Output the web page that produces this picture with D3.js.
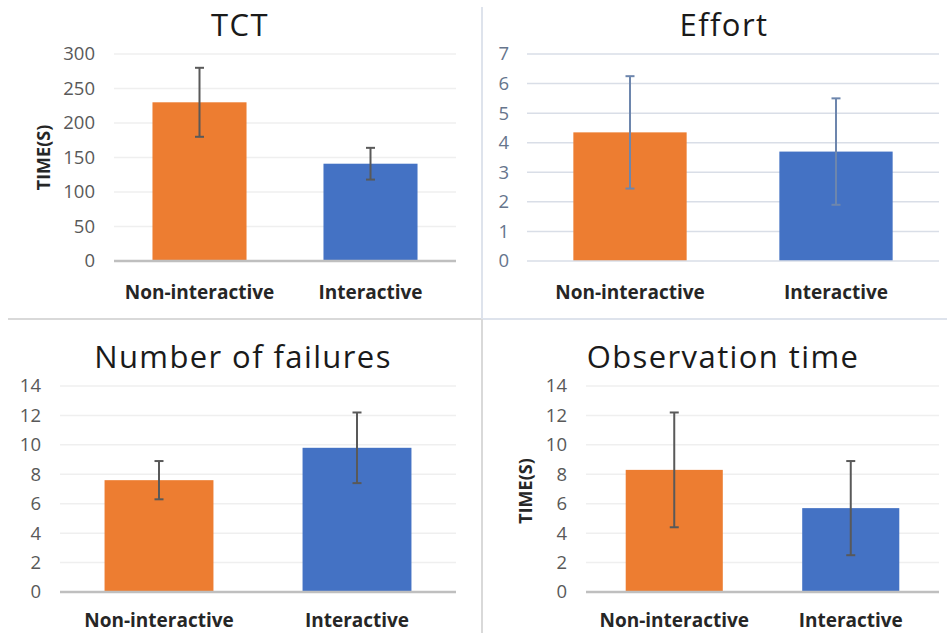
<!DOCTYPE html>
<html>
<head>
<meta charset="utf-8">
<script src="https://cdn.jsdelivr.net/npm/d3@7/dist/d3.min.js"></script>
<style>
  html, body { margin: 0; padding: 0; background: #fff; }
  svg { display: block; }
</style>
</head>
<body>
<svg id="chart" width="947" height="633"></svg>
<script>
// ---- data ----
const categories = ["Non-interactive", "Interactive"];
const tctMeans = [230, 141];
const tctErrors = [50, 23];
const effortMeans = [4.35, 3.7];
const effortErrors = [1.9, 1.8];
const failureMeans = [7.6, 9.8];
const failureErrors = [1.3, 2.4];
const observationMeans = [8.3, 5.7];
const observationErrors = [3.9, 3.2];
const tctTicks = [0, 50, 100, 150, 200, 250, 300];
const effortTicks = [0, 1, 2, 3, 4, 5, 6, 7];
const countTicks = [0, 2, 4, 6, 8, 10, 12, 14];
const barColors = ["#ED7D31", "#4472C4"];

const svg = d3.select("#chart");
const FONT = "'Open Sans', 'Noto Sans', sans-serif";

// dividers
svg.append("line").attr("x1", 8).attr("x2", 482).attr("y1", 319).attr("y2", 319)
  .attr("stroke", "#D9D9D9").attr("stroke-width", 2);
svg.append("line").attr("x1", 482).attr("x2", 947).attr("y1", 319).attr("y2", 319)
  .attr("stroke", "#DEE3EC").attr("stroke-width", 2);
svg.append("line").attr("x1", 482).attr("x2", 482).attr("y1", 7).attr("y2", 319)
  .attr("stroke", "#DEE3EC").attr("stroke-width", 2);
svg.append("line").attr("x1", 482).attr("x2", 482).attr("y1", 319).attr("y2", 633)
  .attr("stroke", "#D9D9D9").attr("stroke-width", 2);

const panels = [
  { title: "TCT", means: tctMeans, errs: tctErrors, ticks: tctTicks,
    x0: 114, x1: 456, yTop: 54, yBot: 261, tickX: 95, ylabel: "TIME(S)", ylabelX: 43,
    titleX: 240, titleY: 36, catY: 299, grid: "#EFEFEF", base: "#BFBFBF", baseW: 2.5,
    err: "#595959", tickColor: "#595959" },
  { title: "Effort", means: effortMeans, errs: effortErrors, ticks: effortTicks,
    x0: 527, x1: 939, yTop: 54, yBot: 261, tickX: 509, ylabel: null,
    titleX: 724, titleY: 36, catY: 299, grid: "#D9DEE7", base: "#D9DEE7", baseW: 1.5,
    err: "#6D86AD", tickColor: "#66758C" },
  { title: "Number of failures", means: failureMeans, errs: failureErrors, ticks: countTicks,
    x0: 60, x1: 456, yTop: 386, yBot: 592, tickX: 41, ylabel: null,
    titleX: 243, titleY: 368, catY: 627, grid: "#EFEFEF", base: "#BFBFBF", baseW: 2.5,
    err: "#595959", tickColor: "#595959" },
  { title: "Observation time", means: observationMeans, errs: observationErrors, ticks: countTicks,
    x0: 586, x1: 939, yTop: 386, yBot: 592, tickX: 567, ylabel: "TIME(S)", ylabelX: 525,
    titleX: 723, titleY: 368, catY: 627, grid: "#EFEFEF", base: "#BFBFBF", baseW: 2.5,
    err: "#595959", tickColor: "#595959" }
];

panels.forEach(p => {
  const g = svg.append("g");
  const x = d3.scaleBand().domain(categories).range([p.x0, p.x1])
    .paddingInner(0.45).paddingOuter(0.225);
  const y = d3.scaleLinear().domain([0, d3.max(p.ticks)]).range([p.yBot, p.yTop]);

  // gridlines
  g.selectAll("line.grid").data(p.ticks.slice(1)).join("line")
    .attr("x1", p.x0).attr("x2", p.x1)
    .attr("y1", d => y(d)).attr("y2", d => y(d))
    .attr("stroke", p.grid).attr("stroke-width", 1.5);

  // y axis tick labels via d3 axis
  const axis = d3.axisLeft(y).tickValues(p.ticks).tickSize(0).tickPadding(0)
    .tickFormat(d3.format("d"));
  const ag = g.append("g").attr("transform", `translate(${p.tickX},0)`).call(axis);
  ag.select(".domain").remove();
  ag.selectAll("text").attr("font-family", FONT).attr("font-size", 18.5)
    .attr("fill", p.tickColor);

  // bars
  const data = categories.map((c, i) => ({ c, m: p.means[i], e: p.errs[i], i }));
  g.selectAll("rect.bar").data(data).join("rect")
    .attr("x", d => x(d.c)).attr("width", x.bandwidth())
    .attr("y", d => y(d.m)).attr("height", d => y(0) - y(d.m))
    .attr("fill", d => barColors[d.i]);

  // baseline
  g.append("line").attr("x1", p.x0).attr("x2", p.x1)
    .attr("y1", y(0)).attr("y2", y(0))
    .attr("stroke", p.base).attr("stroke-width", p.baseW);

  // error bars
  const cap = 4.5;
  data.forEach(d => {
    const cx = x(d.c) + x.bandwidth() / 2;
    g.append("line").attr("x1", cx).attr("x2", cx)
      .attr("y1", y(d.m + d.e)).attr("y2", y(d.m - d.e))
      .attr("stroke", p.err).attr("stroke-width", 2);
    [d.m + d.e, d.m - d.e].forEach(v => {
      g.append("line").attr("x1", cx - cap).attr("x2", cx + cap)
        .attr("y1", y(v)).attr("y2", y(v))
        .attr("stroke", p.err).attr("stroke-width", 2);
    });
  });

  // category labels
  g.selectAll("text.cat").data(categories).join("text")
    .attr("x", d => x(d) + x.bandwidth() / 2).attr("y", p.catY)
    .attr("text-anchor", "middle").attr("font-family", FONT)
    .attr("font-size", 19).attr("font-weight", "bold").attr("fill", "#262626")
    .text(d => d);

  // title
  g.append("text").attr("x", p.titleX).attr("y", p.titleY)
    .attr("text-anchor", "middle").attr("font-family", FONT)
    .attr("font-size", 31).attr("letter-spacing", 1.4)
    .attr("fill", "#1a1a1a").text(p.title);

  // y label
  if (p.ylabel) {
    const cy = (p.yTop + p.yBot) / 2 + (p.yTop < 100 ? 0 : 2);
    g.append("text").attr("transform", `translate(${p.ylabelX},${cy}) rotate(-90)`)
      .attr("text-anchor", "middle").attr("dominant-baseline", "central")
      .attr("font-family", FONT).attr("font-size", 18).attr("font-weight", "bold")
      .attr("fill", "#262626").text(p.ylabel);
  }
});
</script>
</body>
</html>
